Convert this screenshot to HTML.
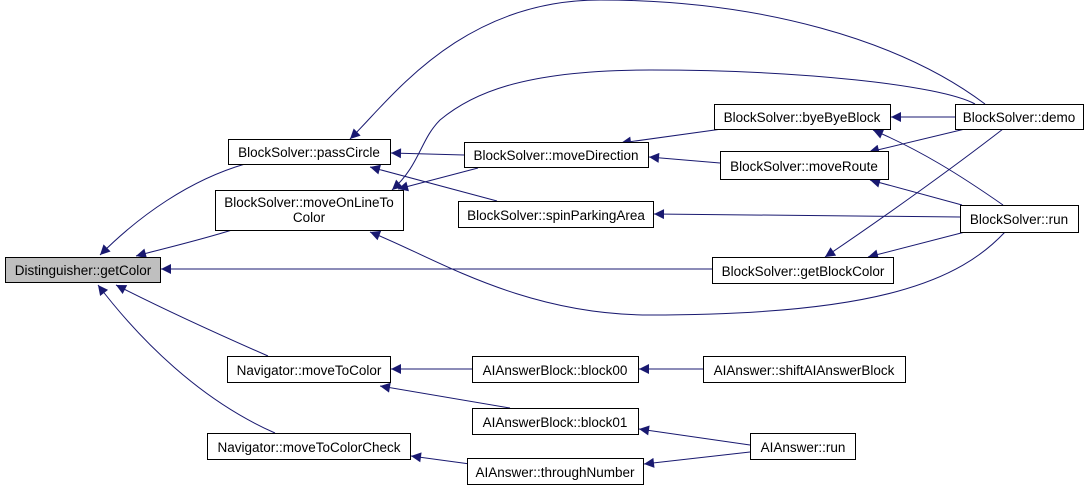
<!DOCTYPE html>
<html><head><style>
html,body{margin:0;padding:0;background:#fff;}
svg text{font-family:"Liberation Sans",sans-serif;font-size:13.5px;fill:#000;}
</style></head><body>
<svg width="1091" height="491" viewBox="0 0 1091 491" xmlns="http://www.w3.org/2000/svg">
<defs>
<marker id="a" viewBox="0 0 10 10" refX="10" refY="5" markerWidth="12" markerHeight="10" markerUnits="userSpaceOnUse" orient="auto">
<path d="M0,0 L10,5 L0,10 z" fill="#191970"/>
</marker>
</defs>
<g fill="none" stroke="#191970" stroke-width="1" marker-end="url(#a)">
<path d="M245,164 C190,180 140,215 100,255"/>
<path d="M232,230 C200,240 170,247 136,256"/>
<path d="M712,269 L161,269"/>
<path d="M268,356 C220,335 165,310 116,285"/>
<path d="M275,433 C200,400 140,340 98,285"/>
<path d="M464,155 L391,153"/>
<path d="M497,201 L370,167"/>
<path d="M478,168 L398,189"/>
<path d="M985,104 C900,40 760,0 600,0 C460,0 390,100 350,139"/>
<path d="M975,104 C940,85 800,70 650,70 C520,70 470,95 440,120 C420,140 420,165 392,190"/>
<path d="M1005,232 C960,280 880,315 650,315 C520,315 430,255 370,232"/>
<path d="M722,129 L621,143"/>
<path d="M720,163 L649,157"/>
<path d="M955,117 L891,117"/>
<path d="M965,129 L869,152"/>
<path d="M1003,205 C960,175 920,150 873,130"/>
<path d="M962,205 L870,180"/>
<path d="M960,217 L654,214"/>
<path d="M1003,129 C950,170 880,220 825,257"/>
<path d="M965,232 L868,257"/>
<path d="M472,369 L391,369"/>
<path d="M510,408 L380,386"/>
<path d="M703,369 L639,369"/>
<path d="M750,445 L639,429"/>
<path d="M750,452 L644,464"/>
<path d="M470,464 L411,456"/>
</g>
<g stroke="#000" stroke-width="1" fill="#fff">
<rect x="5.5" y="257.5" width="155" height="25" fill="#bfbfbf"/>
<rect x="228.5" y="139.5" width="162" height="25"/>
<rect x="215.5" y="190.5" width="188" height="40"/>
<rect x="464.5" y="142.5" width="184" height="25"/>
<rect x="458.5" y="201.5" width="195" height="26"/>
<rect x="714.5" y="104.5" width="176" height="25"/>
<rect x="720.5" y="151.5" width="168" height="28"/>
<rect x="712.5" y="257.5" width="181" height="26"/>
<rect x="955.5" y="104.5" width="128" height="25"/>
<rect x="960.5" y="205.5" width="118" height="27"/>
<rect x="227.5" y="356.5" width="163" height="26"/>
<rect x="472.5" y="356.5" width="166" height="26"/>
<rect x="703.5" y="356.5" width="202" height="26"/>
<rect x="472.5" y="408.5" width="166" height="26"/>
<rect x="750.5" y="433.5" width="105" height="26"/>
<rect x="207.5" y="433.5" width="203" height="26"/>
<rect x="467.5" y="458.5" width="176" height="26"/>
</g>
<g text-anchor="middle">
<text x="83" y="275">Distinguisher::getColor</text>
<text x="309" y="157">BlockSolver::passCircle</text>
<text x="309" y="207">BlockSolver::moveOnLineTo</text>
<text x="309" y="222">Color</text>
<text x="556" y="160">BlockSolver::moveDirection</text>
<text x="556" y="220">BlockSolver::spinParkingArea</text>
<text x="802" y="122">BlockSolver::byeByeBlock</text>
<text x="804" y="171">BlockSolver::moveRoute</text>
<text x="803" y="276">BlockSolver::getBlockColor</text>
<text x="1019" y="122">BlockSolver::demo</text>
<text x="1019" y="224">BlockSolver::run</text>
<text x="309" y="375">Navigator::moveToColor</text>
<text x="555" y="375">AIAnswerBlock::block00</text>
<text x="804" y="375">AIAnswer::shiftAIAnswerBlock</text>
<text x="555" y="427">AIAnswerBlock::block01</text>
<text x="803" y="452">AIAnswer::run</text>
<text x="309" y="452">Navigator::moveToColorCheck</text>
<text x="555" y="477">AIAnswer::throughNumber</text>
</g>
</svg>
</body></html>
